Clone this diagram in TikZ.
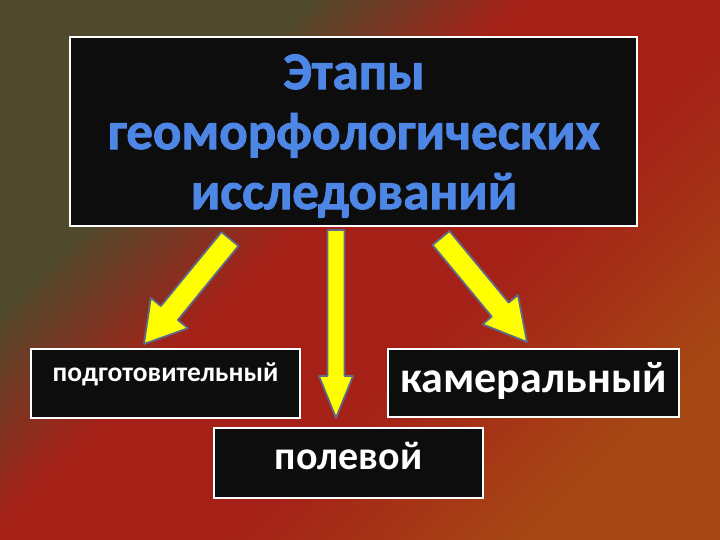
\documentclass[tikz,border=0pt]{standalone}
\usepackage{fontspec}
\setmainfont{Carlito}
\newfontfamily\titlefont[BoldFeatures={FakeBold=1.6}]{Carlito}
\usetikzlibrary{calc,shadings}
\definecolor{bgOlive}{RGB}{80,74,44}
\definecolor{bgRedA}{RGB}{165,33,24}
\definecolor{bgOrange}{RGB}{166,72,20}
\definecolor{boxFill}{RGB}{13,13,13}
\definecolor{titleBlue}{RGB}{78,134,230}
\definecolor{arrowYellow}{RGB}{255,255,0}
\definecolor{arrowEdge}{RGB}{95,105,140}
\pgfdeclareverticalshading{bgdiag}{100bp}{color(0bp)=(bgOrange); color(25bp)=(bgOrange); color(42bp)=(bgRedA); color(56bp)=(bgRedA); color(68bp)=(bgOlive); color(100bp)=(bgOlive)}
\tikzset{
  darkbox/.style={draw=white, line width=1.6pt, fill=boxFill, inner sep=0pt, minimum width=#1},
  darkbox/.default=269pt,
  boxtext/.style={text=white, font=\bfseries, anchor=base, inner sep=0pt},
  blockarrow/.style={fill=arrowYellow, draw=arrowEdge, line width=1.8pt, line join=round}
}
\newcommand\blockarr[5]{%
  \path ($(#2)!#5!(#1)$) coordinate (hb);
  \draw[blockarrow] ($(#1)!#3!90:(#2)$) -- ($(hb)!#3!90:(#2)$) -- ($(hb)!#4!90:(#2)$) -- (#2)
    -- ($(hb)!#4!-90:(#2)$) -- ($(hb)!#3!-90:(#2)$) -- ($(#1)!#3!-90:(#2)$) -- cycle;
}
\begin{document}
\begin{tikzpicture}[x=1pt,y=1pt]
\useasboundingbox (0,0) rectangle (720,540);
% background
\shade[shading=bgdiag, shading angle=45] (0,0) rectangle (720,540);
% title box
\node[darkbox=567pt, minimum height=189pt] (title) at (353.5,408.5) {};
\node[text=titleBlue, font=\titlefont\fontsize{53}{60}\selectfont\bfseries, align=center, inner sep=0pt] (titleText) at (354,404)
  {Этапы\\геоморфологических\\исследований};
% stage boxes
\node[darkbox=269pt, minimum height=69pt] (pod) at (165.5,156.5) {};
\node[darkbox=291pt, minimum height=68pt] (kam) at (533.5,157) {};
\node[darkbox=269pt, minimum height=70pt] (pol) at (348.5,77) {};
\node[boxtext, font=\fontsize{27.5}{30}\selectfont\bfseries] (podText) at (165.5,158) {подготовительный};
\node[boxtext, font=\fontsize{44}{50}\selectfont\bfseries] (kamText) at (533.5,147) {камеральный};
\node[boxtext, font=\fontsize{40}{46}\selectfont\bfseries] (polText) at (348.5,70) {полевой};
% arrows
\coordinate (aLs) at (230,301);
\coordinate (aLt) at (144,196);
\coordinate (aMs) at (336,310);
\coordinate (aMt) at (336,122);
\coordinate (aRs) at (441,302);
\coordinate (aRt) at (527,198);
\blockarr{aLs}{aLt}{11pt}{24pt}{40pt}
\blockarr{aMs}{aMt}{8.5pt}{17pt}{42pt}
\blockarr{aRs}{aRt}{11pt}{23pt}{42pt}
\end{tikzpicture}
\end{document}
